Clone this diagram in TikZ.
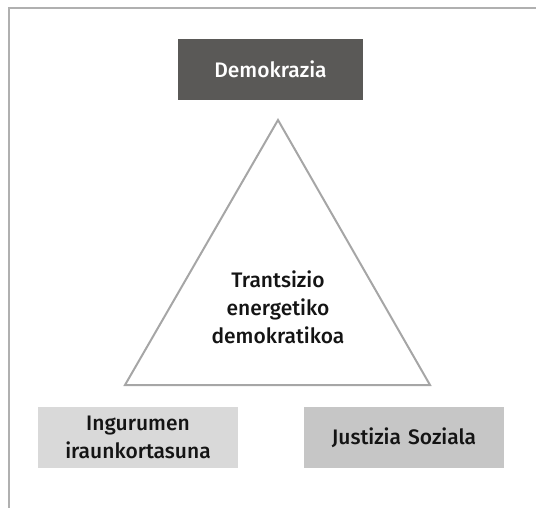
\documentclass[tikz,border=0pt]{standalone}
\usepackage{fontspec}
\setmainfont{Fira Sans}[UprightFont={* Medium}]
\definecolor{framegray}{RGB}{176, 176, 176}
\definecolor{trigray}{RGB}{166, 166, 166}
\definecolor{darkbox}{RGB}{90, 89, 87}
\definecolor{lightbox}{RGB}{217, 217, 217}
\definecolor{midbox}{RGB}{198, 198, 198}
\definecolor{textblack}{RGB}{20, 20, 20}
\tikzstyle{block} = [rectangle, fill=lightbox, text=textblack,
    text width=190pt, text centered, minimum width=200pt, minimum height=61pt,
    inner sep=0pt, font=\fontsize{21}{28}\selectfont]
\tikzstyle{topblock} = [block, fill=darkbox, text=white,
    text width=175pt, minimum width=185pt]
\tikzstyle{inner} = [text=textblack, text width=160pt, text centered,
    font=\fontsize{21}{28}\selectfont]
\tikzstyle{frame} = [draw=framegray, line width=1.5pt]
\tikzstyle{tri} = [draw=trigray, line width=2pt, line join=miter]

\begin{document}
\begin{tikzpicture}[x=1pt, y=1pt, node distance = 266pt]
  \useasboundingbox (0,0) rectangle (536,-508);
  \draw [frame] (9,-508) -- (9,-8) -- (536,-8);
  \node [topblock] (demo) at (270.5,-69.5) {Demokrazia};
  \coordinate (apex) at (278,-120);
  \coordinate (baseleft) at (125,-385);
  \coordinate (baseright) at (430,-385);
  \draw [tri] (apex) -- (baseleft) -- (baseright) -- cycle;
  \node [inner] (trans) at (278,-307) {Trantsizio\\energetiko\\demokratikoa};
  \node [block] (ingur) at (138,-437.5) {Ingurumen\\iraunkortasuna};
  \node [block, fill=midbox, right of=ingur] (justizia) {Justizia Soziala};
\end{tikzpicture}
\end{document}
